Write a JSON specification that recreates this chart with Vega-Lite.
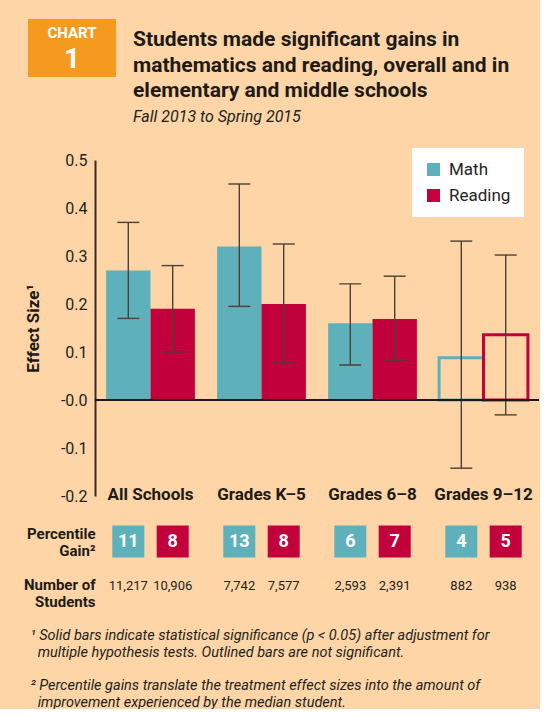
{
  "$schema": "https://vega.github.io/schema/vega-lite/v6.json",
  "background": "#fdd5a6",
  "padding": {"left": 23, "top": 19, "right": 0, "bottom": 0},
  "config": {
    "font": "Roboto",
    "view": {"stroke": null}
  },
  "datasets": {
    "effects": [
      {"group": "All Schools", "subject": "Math", "effect": 0.27, "lo": 0.17, "hi": 0.37, "significant": true, "gain": 11, "students": 11217},
      {"group": "All Schools", "subject": "Reading", "effect": 0.19, "lo": 0.1, "hi": 0.28, "significant": true, "gain": 8, "students": 10906},
      {"group": "Grades K–5", "subject": "Math", "effect": 0.32, "lo": 0.195, "hi": 0.45, "significant": true, "gain": 13, "students": 7742},
      {"group": "Grades K–5", "subject": "Reading", "effect": 0.2, "lo": 0.077, "hi": 0.325, "significant": true, "gain": 8, "students": 7577},
      {"group": "Grades 6–8", "subject": "Math", "effect": 0.16, "lo": 0.073, "hi": 0.242, "significant": true, "gain": 6, "students": 2593},
      {"group": "Grades 6–8", "subject": "Reading", "effect": 0.169, "lo": 0.083, "hi": 0.258, "significant": true, "gain": 7, "students": 2391},
      {"group": "Grades 9–12", "subject": "Math", "effect": 0.088, "lo": -0.142, "hi": 0.331, "significant": false, "gain": 4, "students": 882},
      {"group": "Grades 9–12", "subject": "Reading", "effect": 0.136, "lo": -0.031, "hi": 0.302, "significant": false, "gain": 5, "students": 938}
    ],
    "heading": [
      {"part": "h1", "text": "Students made significant gains in"},
      {"part": "h2", "text": "mathematics and reading, overall and in"},
      {"part": "h3", "text": "elementary and middle schools"},
      {"part": "sub", "text": "Fall 2013 to Spring 2015"}
    ],
    "badge": [
      {"word": "CHART"},
      {"word": "1"}
    ]
  },
  "spacing": 10,
  "resolve": {"scale": {"color": "independent"}, "legend": {"color": "independent"}},
  "vconcat": [
    {
      "spacing": 17,
      "hconcat": [
        {
          "width": 88,
          "height": 58,
          "view": {"fill": "#f39a1f", "stroke": null},
          "data": {"name": "badge"},
          "encoding": {
            "y": {"field": "word", "type": "nominal", "scale": {"type": "point", "domain": ["CHART", "1"], "padding": 0.594, "align": 0.46}, "axis": null},
            "text": {"field": "word"}
          },
          "layer": [
            {"transform": [{"filter": "datum.word == 'CHART'"}], "mark": {"type": "text", "color": "white", "fontWeight": "bold", "fontSize": 15}},
            {"transform": [{"filter": "datum.word == '1'"}], "mark": {"type": "text", "color": "white", "fontWeight": "bold", "fontSize": 28}}
          ]
        },
        {
          "width": 400,
          "height": 119,
          "data": {"name": "heading"},
          "encoding": {
            "x": {"datum": 0, "type": "quantitative", "scale": {"domain": [0, 1]}, "axis": null},
            "y": {"field": "part", "type": "nominal", "scale": {"type": "point", "domain": ["h1", "h2", "h3", "sub"], "padding": 0.818, "align": 0.5}, "axis": null},
            "text": {"field": "text"}
          },
          "layer": [
            {"transform": [{"filter": "datum.part != 'sub'"}], "mark": {"type": "text", "align": "left", "fontSize": 21, "fontWeight": "bold", "color": "#1d1a17"}},
            {"transform": [{"filter": "datum.part == 'sub'"}], "mark": {"type": "text", "align": "left", "fontSize": 16, "fontStyle": "italic", "color": "#231f1c"}}
          ]
        }
      ]
    },
    {
      "bounds": "flush",
      "spacing": 0,
      "resolve": {"scale": {"color": "independent"}, "legend": {"color": "independent"}},
      "hconcat": [
        {
          "width": 67,
          "height": 10,
          "data": {"values": []},
          "mark": "text"
        },
        {
          "spacing": 12,
          "resolve": {"scale": {"color": "independent"}, "legend": {"color": "independent"}},
          "vconcat": [
            {
              "width": 444,
              "height": 336,
              "data": {"name": "effects"},
              "layer": [
                {
                  "encoding": {
                    "x": {
                      "field": "group", "type": "nominal", "sort": null, "title": null,
                      "scale": {"paddingInner": 0.2, "paddingOuter": 0.1},
                      "axis": {"orient": "bottom", "domain": false, "ticks": false, "labelAngle": 0, "labelFontSize": 17, "labelFontWeight": "bold", "labelColor": "#1d1a17", "labelBaseline": "middle", "labelPadding": -2}
                    },
                    "xOffset": {"field": "subject", "type": "nominal", "sort": ["Math", "Reading"], "scale": {"paddingInner": 0, "paddingOuter": 0}}
                  },
                  "layer": [
                    {
                      "transform": [{"filter": "datum.significant"}],
                      "mark": {"type": "bar"},
                      "encoding": {
                        "y": {
                          "field": "effect", "type": "quantitative", "title": "Effect Size¹",
                          "scale": {"domain": [-0.2, 0.5], "nice": false, "zero": false},
                          "axis": {
                            "values": [-0.2, -0.1, 0, 0.1, 0.2, 0.3, 0.4, 0.5],
                            "labelExpr": "datum.value <= 0 ? '-' + format(abs(datum.value), '.1f') : format(datum.value, '.1f')",
                            "ticks": false, "grid": false,
                            "domainColor": "#3a2c20", "domainWidth": 2,
                            "labelFontSize": 16, "labelColor": "#231f1c", "labelPadding": 8,
                            "titleFontSize": 17, "titleFontWeight": "bold", "titleColor": "#1d1a17", "titlePadding": 18
                          }
                        },
                        "color": {
                          "field": "subject", "type": "nominal",
                          "scale": {"domain": ["Math", "Reading"], "range": ["#5eb1bb", "#c2003c"]},
                          "legend": {
                            "title": null, "orient": "none", "legendX": 317, "legendY": -12,
                            "fillColor": "white", "padding": 13, "symbolType": "square", "symbolSize": 169,
                            "symbolStrokeWidth": 0, "labelFontSize": 17, "labelColor": "#231f1c", "rowPadding": 8, "labelOffset": 7
                          }
                        }
                      }
                    },
                    {
                      "transform": [{"filter": "!datum.significant"}],
                      "mark": {"type": "bar", "filled": false, "strokeWidth": 3},
                      "encoding": {
                        "y": {"field": "effect", "type": "quantitative", "title": "Effect Size¹"},
                        "color": {"field": "subject", "type": "nominal"}
                      }
                    },
                    {
                      "mark": {"type": "rule", "color": "#4d4034", "strokeWidth": 1.4},
                      "encoding": {
                        "y": {"field": "lo", "type": "quantitative", "title": "Effect Size¹"},
                        "y2": {"field": "hi"}
                      }
                    },
                    {
                      "mark": {"type": "tick", "color": "#4d4034", "thickness": 1.4, "size": 22, "opacity": 1},
                      "encoding": {"y": {"field": "lo", "type": "quantitative", "title": "Effect Size¹"}}
                    },
                    {
                      "mark": {"type": "tick", "color": "#4d4034", "thickness": 1.4, "size": 22, "opacity": 1},
                      "encoding": {"y": {"field": "hi", "type": "quantitative", "title": "Effect Size¹"}}
                    }
                  ]
                },
                {
                  "mark": {"type": "rule", "color": "#1f1a17", "strokeWidth": 2},
                  "encoding": {"y": {"datum": 0, "type": "quantitative"}}
                }
              ]
            },
            {
              "width": 444,
              "height": 102,
              "data": {"name": "effects"},
              "encoding": {
                "x": {"field": "group", "type": "nominal", "sort": null, "scale": {"paddingInner": 0.2, "paddingOuter": 0.1}, "axis": null},
                "xOffset": {"field": "subject", "type": "nominal", "sort": ["Math", "Reading"], "scale": {"paddingInner": 0, "paddingOuter": 0}}
              },
              "layer": [
                {
                  "mark": {"type": "square", "size": 1024, "opacity": 1},
                  "encoding": {
                    "y": {
                      "datum": "gain", "type": "nominal", "title": null,
                      "scale": {"domain": ["gain", "students"]},
                      "axis": {
                        "domain": false, "ticks": false, "labelFontSize": 15, "labelFontWeight": "bold", "labelColor": "#1d1a17",
                        "labelPadding": 0, "labelLineHeight": 17, "labelOffset": -8.5,
                        "labelExpr": "datum.value == 'gain' ? ['Percentile', 'Gain²'] : ['Number of', 'Students']"
                      }
                    },
                    "color": {"field": "subject", "type": "nominal", "scale": {"domain": ["Math", "Reading"], "range": ["#5eb1bb", "#c2003c"]}, "legend": null}
                  }
                },
                {
                  "mark": {"type": "text", "color": "white", "fontWeight": "bold", "fontSize": 18},
                  "encoding": {
                    "y": {"datum": "gain", "type": "nominal"},
                    "text": {"field": "gain", "type": "quantitative"}
                  }
                },
                {
                  "mark": {"type": "text", "fontSize": 13, "color": "#231f1c", "dy": -7},
                  "encoding": {
                    "y": {"datum": "students", "type": "nominal"},
                    "text": {"field": "students", "type": "quantitative", "format": ","}
                  }
                }
              ],
              "title": {
                "text": ["¹ Solid bars indicate statistical significance (p < 0.05) after adjustment for", "\u200b\u2002multiple hypothesis tests. Outlined bars are not significant."],
                "subtitle": ["² Percentile gains translate the treatment effect sizes into the amount of", "\u200b\u2002improvement experienced by the median student."],
                "orient": "bottom", "anchor": "start", "frame": "bounds", "offset": 11, "dx": 7,
                "fontSize": 14.5, "fontStyle": "italic", "fontWeight": "normal", "color": "#231f1c", "lineHeight": 17,
                "subtitleFontSize": 14.5, "subtitleFontStyle": "italic", "subtitleColor": "#231f1c", "subtitleLineHeight": 17, "subtitlePadding": 18
              }
            }
          ]
        }
      ]
    }
  ]
}
